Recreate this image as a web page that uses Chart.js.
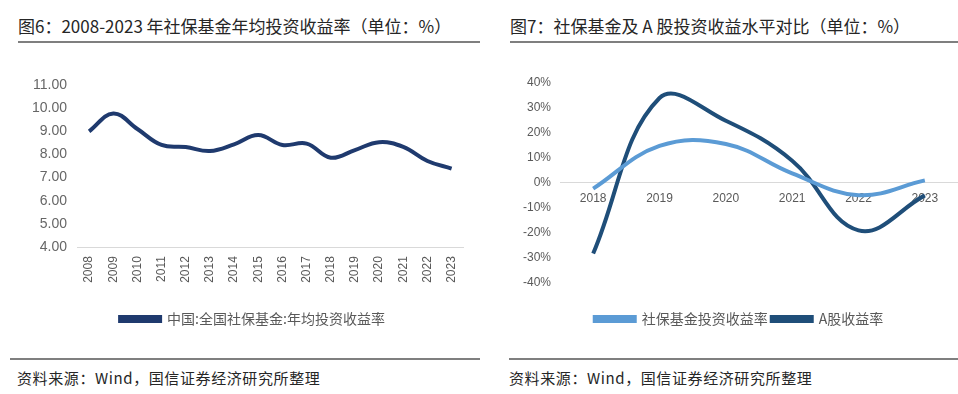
<!DOCTYPE html>
<html>
<head>
<meta charset="utf-8">
<script src="https://cdn.jsdelivr.net/npm/chart.js@4.4.0/dist/chart.umd.min.js"></script>
<style>
  body { margin: 0; width: 958px; height: 394px; background: #fff; position: relative; overflow: hidden;
         font-family: "Noto Sans CJK SC", "Noto Sans", sans-serif; }
  .title { position: absolute; top: 13px; font-size: 17px; color: #262626; white-space: nowrap; }
  .hline { position: absolute; height: 2px; background: #7f7f7f; }
  .foot { position: absolute; top: 367px; font-size: 15px; color: #262626; white-space: nowrap; letter-spacing: 0.6px; }
  .box { position: absolute; }
</style>
</head>
<body>
<div class="title" style="left:18px">图6：2008-2023 年社保基金年均投资收益率（单位：%）</div>
<div class="hline" style="left:18px; width:462px; top:41px"></div>
<div class="title" style="left:510px">图7：社保基金及 A 股投资收益水平对比（单位：%）</div>
<div class="hline" style="left:510px; width:448px; top:41px"></div>

<div class="box" style="left:30px; top:60px; width:445px; height:280px"><canvas id="c1"></canvas></div>
<div class="box" style="left:500px; top:60px; width:458px; height:280px"><canvas id="c2"></canvas></div>

<div class="hline" style="left:10px; width:470px; top:358px"></div>
<div class="hline" style="left:509px; width:449px; top:358px"></div>
<div class="foot" style="left:17px">资料来源：Wind，国信证券经济研究所整理</div>
<div class="foot" style="left:509px">资料来源：Wind，国信证券经济研究所整理</div>

<script>
const years1 = ['2008','2009','2010','2011','2012','2013','2014','2015','2016','2017','2018','2019','2020','2021','2022','2023'];
const avgReturn = [9.00, 9.77, 9.10, 8.41, 8.32, 8.15, 8.44, 8.84, 8.41, 8.47, 7.86, 8.19, 8.53, 8.33, 7.72, 7.39];

const years2 = ['2018','2019','2020','2021','2022','2023'];
const fundReturn = [-2.3, 14.8, 15.6, 3.8, -4.9, 1.0];
const aShareReturn = [-28.3, 34.0, 24.9, 8.9, -19.0, -5.0];

const tickColor = '#595959';
const tickFont = { family: 'Liberation Sans, Arial, sans-serif', size: 12 };
const legendFont = { family: 'Noto Sans CJK SC, sans-serif', size: 14 };

// legend title used only as an empty spacer between plot and legend
const spacer = gap => ({ display: true, text: ' ', font: { size: 1 }, padding: { top: gap, bottom: 0 } });

new Chart(document.getElementById('c1'), {
    type: 'line',
    data: {
        labels: years1,
        datasets: [{
            label: '中国:全国社保基金:年均投资收益率',
            data: avgReturn,
            borderColor: '#1f3a6e',
            backgroundColor: '#1f3a6e',
            borderWidth: 4,
            pointRadius: 0,
            tension: 0.4,
            fill: false
        }]
    },
    options: {
        responsive: true,
        maintainAspectRatio: false,
        animation: false,
        layout: { padding: { left: 0, right: 0, top: 25, bottom: 4 } },
        plugins: {
            tooltip: { enabled: false },
            legend: {
                position: 'bottom',
                title: spacer(15),
                labels: { boxWidth: 40, boxHeight: 4, color: tickColor, font: legendFont, padding: 4 }
            }
        },
        scales: {
            x: {
                offset: true,
                grid: { display: false, drawTicks: false },
                border: { color: '#d9d9d9', width: 1 },
                ticks: { color: tickColor, font: tickFont, minRotation: 90, maxRotation: 90, padding: 9 }
            },
            y: {
                min: 4, max: 11,
                afterFit: s => { s.width = 47; },
                grid: { display: false, drawTicks: false },
                border: { display: false },
                ticks: { stepSize: 1, color: '#666', font: { family: tickFont.family, size: 14 }, padding: 10,
                         callback: v => v.toFixed(2) }
            }
        }
    }
});

new Chart(document.getElementById('c2'), {
    type: 'line',
    data: {
        labels: years2,
        datasets: [{
            label: '社保基金投资收益率',
            data: fundReturn,
            borderColor: '#5b9bd5',
            backgroundColor: '#5b9bd5',
            borderWidth: 4,
            pointRadius: 0,
            tension: 0.4,
            fill: false
        }, {
            label: 'A股收益率',
            data: aShareReturn,
            borderColor: '#1f4e79',
            backgroundColor: '#1f4e79',
            borderWidth: 4,
            pointRadius: 0,
            tension: 0.4,
            fill: false
        }]
    },
    options: {
        responsive: true,
        maintainAspectRatio: false,
        animation: false,
        layout: { padding: { left: 20, right: 0, top: 23, bottom: 4 } },
        plugins: {
            tooltip: { enabled: false },
            legend: {
                position: 'bottom',
                title: spacer(24),
                labels: { boxWidth: 40, boxHeight: 4, color: tickColor, font: legendFont, padding: 4 }
            }
        },
        scales: {
            x: {
                position: { y: 0 },
                offset: true,
                grid: { display: false, drawTicks: false },
                border: { color: '#d9d9d9', width: 1 },
                ticks: { color: tickColor, font: tickFont, maxRotation: 0, padding: 9 }
            },
            y: {
                min: -40, max: 40,
                afterFit: s => { s.width = 40; },
                grid: { display: false, drawTicks: false },
                border: { display: false },
                ticks: { stepSize: 10, color: tickColor, font: tickFont, padding: 9,
                         callback: v => v + '%' }
            }
        }
    }
});
</script>
</body>
</html>
